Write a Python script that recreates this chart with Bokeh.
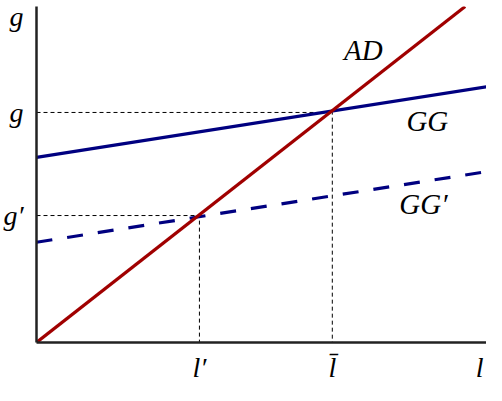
from bokeh.plotting import figure
from bokeh.models import Range1d, FixedTicker
from bokeh.core.properties import value
from bokeh.embed import file_html
from bokeh.resources import INLINE

# ---- data (abstract units) ----
ad_l = [0, 442]
ad_g = [0, 352]
gg_l = [0, 464]
gg_g = [194, 268]
gg2_l = [0, 464]
gg2_g = [105, 179]

l_bar, g_bar = 305, 241      # equilibrium with GG
l_pr, g_pr = 168, 133        # equilibrium with GG'

x_ticks = [l_pr, l_bar, 457]
x_tick_labels = ["l′", "l̄", "l"]
y_ticks = [g_pr, g_bar, 346]
y_tick_labels = ["g′", "g", "g"]

curve_labels = ["AD", "GG", "GG′"]
curve_label_x = [337, 403, 399]
curve_label_y = [306, 232, 145]

FONT = "Liberation Serif"

p = figure(width=486, height=385, output_backend="svg", toolbar_location=None,
           x_range=Range1d(0, 464), y_range=Range1d(0, 352),
           min_border_left=36, min_border_right=0, min_border_top=6,
           min_border_bottom=35)
p.outline_line_color = None
p.grid.visible = False
p.background_fill_color = "white"

for ax in (p.xaxis[0], p.yaxis[0]):
    ax.axis_line_width = 2.5
    ax.axis_line_color = "#222222"
    ax.major_tick_line_color = None
    ax.minor_tick_line_color = None
    ax.major_label_text_font = FONT
    ax.major_label_text_font_style = "italic"
    ax.major_label_text_font_size = "28px"
    ax.major_label_text_color = "black"

p.xaxis[0].ticker = FixedTicker(ticks=x_ticks)
p.xaxis[0].major_label_overrides = {t: s for t, s in zip(x_ticks, x_tick_labels)}
p.xaxis[0].major_label_standoff = 3
p.yaxis[0].ticker = FixedTicker(ticks=y_ticks)
p.yaxis[0].major_label_overrides = {t: s for t, s in zip(y_ticks, y_tick_labels)}
p.yaxis[0].major_label_standoff = 7

# dotted guide lines
p.line([0, l_bar, l_bar], [g_bar, g_bar, 0], line_color="black", line_width=1, line_dash="4 3")
p.line([0, l_pr, l_pr], [g_pr, g_pr, 0], line_color="black", line_width=1, line_dash="4 3")

# curves
p.line(gg2_l, gg2_g, line_color="#000080", line_width=3.2, line_dash="16 15")
p.line(gg_l, gg_g, line_color="#000080", line_width=3.2)
p.line(ad_l, ad_g, line_color="#a00000", line_width=3.2)

p.text(x=curve_label_x, y=curve_label_y, text=curve_labels,
       text_font=value(FONT), text_font_style="italic", text_font_size="29px",
       text_align="center", text_baseline="middle", text_color="black")

open("out.html", "w").write(file_html(p, INLINE))
